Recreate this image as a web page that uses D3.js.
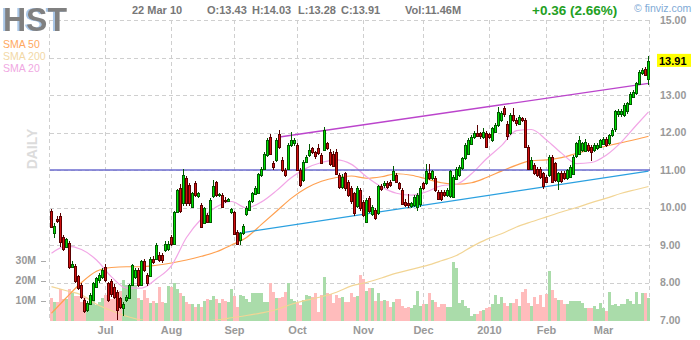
<!DOCTYPE html>
<html>
<head>
<meta charset="utf-8">
<script src="https://d3js.org/d3.v7.min.js"></script>
<style>
  body { margin: 0; background: #fff; }
  svg { display: block; font-family: "Liberation Sans", Arial, sans-serif; }
</style>
</head>
<body>
<svg id="chart" width="700" height="340"></svg>
<script>
// ---- data ----
const ticker = "HST";
const firstDay = "2009-06-05";
const lastDay = "2010-03-22";
const holidays = ["2009-07-03", "2009-09-07", "2009-11-26", "2009-12-25", "2010-01-01", "2010-01-18", "2010-02-15"];

const opens = [
  9.91, 9.33, 9.70, 9.77, 9.22, 8.97, 9.05, 8.42, 8.45, 8.17,
  7.93, 7.53, 7.27, 7.44, 7.55, 7.88, 8.07, 8.15, 8.42, 7.99,
  8.04, 7.89, 7.75, 7.58, 7.33, 7.53, 7.59, 7.93, 8.15, 8.33,
  7.93, 8.56, 8.20, 8.20, 8.64, 8.64, 8.73, 8.73, 8.87, 8.91,
  9.22, 9.04, 9.89, 10.51, 10.11, 10.78, 10.60, 10.02, 10.64, 10.29,
  10.07, 9.58, 9.80, 9.62, 10.29, 10.69, 10.32, 10.33, 10.20, 10.18,
  9.87, 9.89, 9.36, 9.13, 9.31, 9.82, 9.93, 10.16, 10.38, 10.38,
  10.87, 11.04, 11.40, 11.89, 11.18, 11.27, 11.95, 11.27, 11.00, 11.04,
  11.67, 11.71, 11.67, 11.00, 10.73, 11.22, 11.40, 11.58, 11.47, 11.58,
  11.40, 11.53, 11.71, 11.49, 11.44, 11.49, 10.87, 10.56, 10.91, 10.69,
  10.51, 10.38, 10.02, 10.47, 10.16, 9.62, 10.24, 9.84, 9.93, 9.84,
  10.58, 10.58, 10.66, 10.69, 10.73, 10.87, 10.64, 10.47, 10.16, 10.13,
  10.02, 10.07, 10.02, 10.07, 10.64, 10.64, 10.91, 10.78, 10.78, 10.42,
  10.42, 10.42, 10.33, 10.29, 10.29, 10.78, 10.87, 11.04, 11.31, 11.44,
  11.71, 11.89, 12.00, 11.98, 11.89, 11.98, 11.96, 11.80, 12.02, 12.20,
  12.33, 12.64, 12.24, 11.98, 12.47, 12.33, 12.24, 12.38, 12.33, 11.62,
  11.04, 11.13, 11.04, 11.04, 10.91, 10.82, 10.87, 11.36, 11.18, 10.69,
  10.91, 10.91, 10.78, 10.82, 10.91, 11.36, 11.44, 11.53, 11.53, 11.67,
  11.62, 11.53, 11.58, 11.62, 11.71, 11.84, 11.71, 11.93, 12.07, 12.47,
  12.47, 12.47, 12.56, 12.78, 12.96, 13.04, 13.31, 13.58, 13.70, 13.43
];
const highs = [
  9.95, 9.58, 9.78, 9.85, 9.28, 9.20, 9.10, 8.58, 8.50, 8.20,
  7.98, 7.58, 7.50, 7.72, 8.02, 8.15, 8.25, 8.38, 8.50, 8.02,
  8.10, 7.95, 7.80, 7.62, 7.48, 7.66, 7.96, 8.50, 8.40, 8.38,
  8.60, 8.62, 8.25, 8.68, 8.70, 9.05, 8.80, 8.78, 9.10, 9.12,
  9.26, 9.92, 10.50, 10.62, 11.04, 10.85, 10.65, 10.42, 10.70, 10.42,
  10.12, 10.02, 9.85, 10.25, 10.74, 10.72, 10.40, 10.38, 10.28, 10.26,
  10.00, 9.92, 9.40, 9.35, 9.55, 10.03, 10.20, 10.42, 10.58, 10.92,
  11.08, 11.48, 11.85, 11.95, 11.25, 11.85, 12.07, 11.35, 11.05, 11.72,
  12.02, 11.85, 11.72, 11.05, 11.28, 11.40, 11.70, 11.62, 11.52, 11.70,
  11.45, 12.16, 11.75, 11.55, 11.50, 11.55, 10.92, 10.90, 10.95, 10.74,
  10.56, 10.42, 10.56, 10.52, 10.20, 10.25, 10.30, 10.08, 9.98, 10.60,
  10.62, 10.70, 10.70, 10.74, 11.10, 10.92, 10.68, 10.52, 10.22, 10.36,
  10.16, 10.34, 10.38, 10.56, 10.68, 11.16, 11.16, 11.00, 10.83, 10.47,
  10.46, 10.46, 10.51, 11.00, 10.87, 11.08, 11.13, 11.35, 11.72, 11.85,
  11.93, 12.04, 12.20, 12.02, 12.12, 12.04, 12.00, 12.16, 12.25, 12.68,
  12.56, 12.70, 12.30, 12.52, 12.64, 12.38, 12.46, 12.42, 12.38, 11.66,
  11.36, 11.18, 11.08, 11.08, 10.95, 10.86, 11.40, 11.40, 11.22, 10.95,
  10.96, 10.96, 11.04, 11.13, 11.40, 11.76, 11.91, 11.76, 11.84, 11.72,
  11.67, 11.72, 11.72, 11.84, 11.88, 11.88, 11.97, 12.11, 12.60, 12.62,
  12.62, 12.78, 12.82, 13.08, 13.14, 13.36, 13.66, 13.72, 13.74, 14.03
];
const lows = [
  9.45, 9.18, 9.60, 8.95, 8.85, 8.92, 8.35, 8.38, 8.00, 7.80,
  7.55, 7.20, 7.22, 7.40, 7.50, 7.85, 8.00, 8.10, 8.02, 7.48,
  7.62, 7.55, 7.00, 7.30, 7.10, 7.48, 7.55, 7.90, 8.10, 7.88,
  7.90, 8.28, 7.92, 8.15, 8.50, 8.60, 8.55, 8.52, 8.82, 8.85,
  8.98, 9.00, 9.85, 9.85, 10.05, 10.05, 10.05, 9.98, 10.28, 10.25,
  9.45, 9.55, 9.58, 9.58, 10.25, 10.28, 10.28, 9.98, 10.12, 10.14,
  9.84, 9.28, 9.00, 9.00, 9.28, 9.78, 9.90, 10.12, 10.33, 10.35,
  10.82, 11.00, 11.35, 11.40, 11.00, 11.22, 11.55, 10.95, 10.80, 11.00,
  11.62, 11.65, 10.98, 10.55, 10.68, 11.18, 11.36, 11.42, 11.30, 11.40,
  11.15, 11.50, 11.53, 11.12, 11.08, 10.86, 10.50, 10.50, 10.45, 10.28,
  10.10, 9.78, 9.98, 9.92, 9.75, 9.58, 9.85, 9.78, 9.66, 9.80,
  10.45, 10.52, 10.50, 10.55, 10.70, 10.64, 10.46, 10.06, 10.02, 10.00,
  9.98, 10.02, 9.90, 10.02, 10.46, 10.60, 10.73, 10.74, 10.42, 10.20,
  10.18, 10.28, 10.28, 10.25, 10.24, 10.74, 10.82, 11.00, 11.26, 11.40,
  11.66, 11.84, 11.88, 11.84, 11.84, 11.58, 11.82, 11.76, 11.98, 12.15,
  12.28, 12.42, 11.80, 11.94, 12.28, 12.18, 12.20, 12.28, 11.58, 11.00,
  11.00, 10.86, 10.82, 10.76, 10.50, 10.64, 10.82, 10.64, 10.68, 10.47,
  10.64, 10.74, 10.74, 10.78, 10.86, 11.32, 11.40, 11.48, 11.48, 11.48,
  11.25, 11.48, 11.54, 11.58, 11.66, 11.62, 11.66, 11.88, 12.02, 12.42,
  12.40, 12.42, 12.50, 12.74, 12.92, 13.00, 13.26, 13.54, 13.50, 13.28
];
const closes = [
  9.49, 9.52, 9.65, 9.08, 8.90, 9.17, 8.40, 8.50, 8.04, 7.85,
  7.60, 7.25, 7.46, 7.67, 7.99, 8.12, 8.20, 8.33, 8.07, 7.53,
  7.68, 7.62, 7.27, 7.35, 7.44, 7.62, 7.93, 8.47, 8.33, 7.93,
  8.56, 8.33, 7.98, 8.64, 8.56, 9.00, 8.60, 8.60, 9.04, 9.04,
  9.04, 9.89, 10.47, 9.89, 10.87, 10.11, 10.11, 10.38, 10.33, 10.38,
  9.49, 9.98, 9.62, 10.20, 10.56, 10.33, 10.36, 10.02, 10.16, 10.22,
  9.96, 9.31, 9.04, 9.31, 9.50, 9.99, 10.17, 10.38, 10.53, 10.89,
  11.04, 11.44, 11.80, 11.44, 11.06, 11.80, 11.60, 11.00, 10.87, 11.67,
  11.80, 11.80, 11.00, 10.60, 11.22, 11.36, 11.53, 11.47, 11.36, 11.44,
  11.20, 12.07, 11.58, 11.18, 11.13, 10.91, 10.56, 10.82, 10.51, 10.33,
  10.16, 9.84, 10.51, 9.98, 9.80, 10.20, 9.89, 10.02, 9.71, 10.56,
  10.50, 10.64, 10.55, 10.60, 10.96, 10.69, 10.51, 10.11, 10.07, 10.09,
  10.11, 10.29, 10.33, 10.51, 10.51, 10.96, 10.78, 10.96, 10.47, 10.24,
  10.24, 10.33, 10.47, 10.96, 10.82, 11.04, 11.09, 11.31, 11.67, 11.80,
  11.89, 12.00, 11.93, 11.89, 12.02, 11.62, 11.87, 12.11, 12.20, 12.55,
  12.51, 12.47, 11.93, 12.47, 12.33, 12.24, 12.42, 12.33, 11.62, 11.04,
  11.27, 10.91, 10.87, 10.82, 10.56, 10.69, 11.36, 10.69, 10.73, 10.91,
  10.69, 10.78, 11.00, 11.09, 11.36, 11.71, 11.80, 11.71, 11.76, 11.53,
  11.49, 11.67, 11.67, 11.80, 11.84, 11.67, 11.93, 12.07, 12.56, 12.56,
  12.56, 12.73, 12.78, 13.04, 13.09, 13.31, 13.62, 13.67, 13.55, 13.91
];
// volume in millions of shares
const volumes = [
  11.5, 9.5, 9.5, 15.7, 10.7, 10.7, 15.7, 13.7, 12.3, 12.3,
  9.5, 12, 7, 10.3, 10.7, 7.8, 9.5, 11.2, 12.8, 10,
  10.7, 14.5, 7, 15, 20.3, 17.8, 15.3, 17.8, 17.8, 11.2,
  10.3, 15.3, 11.2, 8.7, 9.8, 8.7, 17, 9.5, 8.7, 17.5,
  17, 19, 15.7, 13.7, 12.3, 9.5, 8.4, 8.4, 7, 8.4,
  7, 10, 10.7, 10.4, 12.3, 10.7, 9, 11, 9.8, 9.5,
  15.7, 12.3, 7, 12.8, 12.3, 10.7, 9.5, 13.7, 13.7, 14,
  14, 9.4, 9.3, 19, 14.5, 11.2, 11.2, 12, 14.5, 19,
  10.7, 9.8, 8.7, 7.8, 10.4, 12.8, 12.5, 12, 13.7, 4.5,
  12.8, 22, 13.7, 13.4, 9, 12.8, 11.2, 12, 9.4, 9.4,
  13.7, 12, 12.3, 22.8, 20.7, 14.8, 16.2, 16.2, 9.8, 13.7,
  9.8, 10.3, 9.8, 7, 9.5, 10.7, 10.7, 7.3, 6.5, 7,
  6.2, 7.8, 14.8, 7.3, 8.5, 8.5, 13.7, 10.3, 9.2, 7,
  8.5, 8.5, 7, 7, 29.2, 26.2, 9, 10.3, 7.3, 6.2,
  2.5, 3.3, 3.3, 5, 5.3, 6.2, 7, 8.2, 12.8, 8.5,
  11.7, 9, 7.3, 9, 9, 10.7, 7.3, 14.2, 16, 9,
  7.3, 11.7, 8.5, 12.8, 7, 13.3, 25, 15.3, 11.5, 10.3,
  10.3, 8.2, 8.2, 9.8, 9.8, 9.8, 9.8, 9, 6.5, 6.5,
  6.5, 7.3, 5.7, 9, 6.2, 5, 14.5, 7.8, 8.5, 7.3,
  8.5, 8.2, 10.7, 9.8, 8.5, 14.5, 8.5, 13.7, 13.7, 11.46
];

// moving averages, read every 5 bars
const smaAt = [0, 5, 10, 15, 20, 25, 30, 35, 40, 45, 50, 55, 60, 65, 70, 75, 80, 85, 90, 95,
  100, 105, 110, 115, 120, 125, 130, 135, 140, 145, 150, 155, 160, 165, 170, 175, 180, 185, 190, 195, 199];
const sma20 = [8.78, 8.97, 8.88, 8.6, 8.15, 7.85, 7.85, 8.1, 8.45, 9.2, 9.7, 10.02, 10.16, 9.99, 10.15, 10.45, 10.8, 11.05, 11.2, 11.27,
  11.15, 10.82, 10.55, 10.38, 10.33, 10.42, 10.58, 10.62, 10.9, 11.3, 11.65, 12.05, 12.08, 11.8, 11.45, 11.17, 11.2, 11.4, 11.75, 12.2, 12.55];
const sma50 = [7.18, 7.6, 8.0, 8.3, 8.4, 8.42, 8.42, 8.46, 8.52, 8.6, 8.7, 8.82, 9.0, 9.2, 9.55, 9.9, 10.25, 10.52, 10.7, 10.8,
  10.84, 10.78, 10.82, 10.9, 10.86, 10.76, 10.66, 10.62, 10.66, 10.8, 10.97, 11.13, 11.25, 11.27, 11.33, 11.44, 11.55, 11.64, 11.73, 11.82, 11.9];
const sma200 = [7.89, 7.78, 7.67, 7.42, 7.25, 7.1, 7.0, 6.97, 6.96, 6.96, 6.97, 7.0, 7.06, 7.12, 7.19, 7.28, 7.42, 7.53, 7.62, 7.74,
  7.91, 8.0, 8.12, 8.25, 8.35, 8.45, 8.58, 8.72, 8.95, 9.15, 9.3, 9.48, 9.62, 9.75, 9.88, 10.0, 10.13, 10.25, 10.38, 10.48, 10.56];

// drawn trendlines: [bar, price]
const resistance = [[76, 11.88], [199, 13.31]];
const support = [[62, 9.31], [199, 10.97]];
const level = 11.0;

const priceTicks = [7, 8, 9, 10, 11, 12, 13, 14, 15];
const volTicks = [10, 20, 30];

// ---- dates ----
const parse = d3.utcParse("%Y-%m-%d");
const fmt = d3.utcFormat("%Y-%m-%d");
const dates = d3.utcDays(parse(firstDay), d3.utcDay.offset(parse(lastDay), 1))
  .filter(d => d.getUTCDay() % 6 !== 0 && !holidays.includes(fmt(d)));

const bars = dates.map((d, i) => ({
  i, date: d, o: opens[i], h: highs[i], l: lows[i], c: closes[i], v: volumes[i]
}));
const last = bars[bars.length - 1];
const prev = bars[bars.length - 2];

// ---- scales ----
const svg = d3.select("#chart");
const x = d3.scaleBand().domain(d3.range(bars.length)).range([50, 650]);
const cx = i => x(i) + x.bandwidth() / 2;
const y = d3.scaleLinear().domain([7, 15]).range([320, 20]);
const yv = d3.scaleLinear().domain([0, 30]).range([320.7, 260.7]);
const snap = v => Math.round(v) + 0.5;

const defs = svg.append("defs");
defs.append("clipPath").attr("id", "plot")
  .append("rect").attr("x", 50).attr("y", 20).attr("width", 600).attr("height", 300);
// bluish offset shade behind the ticker
const shade = defs.append("filter").attr("id", "shade").attr("x", "-10%").attr("width", "120%");
shade.append("feFlood").attr("flood-color", "#a9c6e6");
shade.append("feComposite").attr("in2", "SourceAlpha").attr("operator", "in");
shade.append("feOffset").attr("dx", -2).attr("dy", 0).attr("result", "sh");
const merge = shade.append("feMerge");
merge.append("feMergeNode").attr("in", "sh");
merge.append("feMergeNode").attr("in", "SourceGraphic");

// grid
const grid = svg.append("g").attr("stroke", "#cfcfcf").attr("stroke-dasharray", "4,3");
grid.selectAll("line.h").data(priceTicks).join("line")
  .attr("x1", 50).attr("x2", 650)
  .attr("y1", d => snap(y(d))).attr("y2", d => snap(y(d)));

const monthStarts = bars.filter((b, i) => i > 0 && b.date.getUTCMonth() !== bars[i - 1].date.getUTCMonth());
grid.selectAll("line.v").data(monthStarts).join("line")
  .attr("x1", d => cx(d.i)).attr("x2", d => cx(d.i))
  .attr("y1", 20).attr("y2", 320);
grid.selectAll("line.edge").data([50, 650]).join("line")
  .attr("x1", d => d - 0.5).attr("x2", d => d - 0.5).attr("y1", 20).attr("y2", 320);

// volume
svg.append("g").attr("shape-rendering", "crispEdges")
  .selectAll("rect").data(bars).join("rect")
  .attr("x", d => x(d.i)).attr("width", x.bandwidth())
  .attr("y", d => yv(d.v)).attr("height", d => yv(0) - yv(d.v))
  .attr("fill", d => d.c >= d.o ? "#aadcaa" : "#ffbcbc");

// moving averages
const plot = svg.append("g").attr("clip-path", "url(#plot)");
const maLine = vals => d3.line().x((d, k) => cx(smaAt[k])).y(d => y(d)).curve(d3.curveMonotoneX)(vals);
[[sma200, "#f2d595"], [sma50, "#ffa050"], [sma20, "#f2a6e6"]].forEach(([vals, col]) => {
  plot.append("path").attr("d", maLine(vals)).attr("fill", "none")
    .attr("stroke", col).attr("stroke-width", 1.2);
});

// horizontal level and trendlines
plot.append("line").attr("x1", 50).attr("x2", 650)
  .attr("y1", y(level)).attr("y2", y(level))
  .attr("stroke", "#6c6cd0").attr("stroke-width", 1.3);
const tl = d3.line().x(d => cx(d[0])).y(d => y(d[1]));
plot.append("path").attr("d", tl(resistance)).attr("stroke", "#bb44cc").attr("stroke-width", 1.3).attr("fill", "none");
plot.append("path").attr("d", tl(support)).attr("stroke", "#2aa0e0").attr("stroke-width", 1.3).attr("fill", "none");

// candles
const candles = plot.append("g").attr("shape-rendering", "crispEdges")
  .selectAll("g").data(bars).join("g");
candles.append("line")
  .attr("x1", d => cx(d.i)).attr("x2", d => cx(d.i))
  .attr("y1", d => Math.round(y(d.h))).attr("y2", d => Math.round(y(d.l)))
  .attr("stroke", d => d.c >= d.o ? "#005a00" : "#5a0000");
candles.append("rect")
  .attr("x", d => cx(d.i) - 1).attr("width", 2)
  .attr("y", d => snap(y(Math.max(d.o, d.c))))
  .attr("height", d => Math.max(1, Math.round(Math.abs(y(d.o) - y(d.c)))))
  .attr("fill", d => d.c >= d.o ? "#00e000" : "#d01010")
  .attr("stroke", d => d.c >= d.o ? "#005a00" : "#5a0000");

// right price axis
const yLast = y(last.c);
svg.append("g").selectAll("text").data(priceTicks.filter(p => Math.abs(y(p) - yLast) > 12)).join("text")
  .attr("x", 660).attr("y", d => y(d)).attr("dy", "0.36em")
  .attr("font-size", 10.5).attr("font-weight", "bold").attr("fill", "#999")
  .text(d => d.toFixed(2));
svg.append("rect").attr("x", 657).attr("y", yLast - 7).attr("width", 34).attr("height", 13).attr("fill", "#ffff00");
svg.append("text").attr("x", 659).attr("y", yLast).attr("dy", "0.36em")
  .attr("font-size", 11).attr("font-weight", "bold").attr("fill", "#000")
  .text(last.c.toFixed(2));

// volume axis
const va = svg.append("g");
va.selectAll("line").data(volTicks).join("line")
  .attr("x1", 41).attr("x2", 46).attr("y1", d => snap(yv(d))).attr("y2", d => snap(yv(d)))
  .attr("stroke", "#aaa");
va.selectAll("text").data(volTicks).join("text")
  .attr("x", 36).attr("y", d => yv(d)).attr("dy", "0.36em").attr("text-anchor", "end")
  .attr("font-size", 10.5).attr("font-weight", "bold").attr("fill", "#999")
  .text(d => d + "M");

// month labels
svg.append("g").selectAll("text").data(monthStarts).join("text")
  .attr("x", d => cx(d.i)).attr("y", 334).attr("text-anchor", "middle")
  .attr("font-size", 11).attr("font-weight", "bold").attr("fill", "#999")
  .text(d => d.date.getUTCMonth() === 0 ? d3.utcFormat("%Y")(d.date) : d3.utcFormat("%b")(d.date));

// header
svg.append("text").attr("x", 3).attr("y", 31).attr("font-size", 34).attr("font-weight", "bold")
  .attr("fill", "#808080").attr("textLength", 64).attr("lengthAdjust", "spacingAndGlyphs")
  .attr("filter", "url(#shade)").text(ticker);

const info = [
  [132, d3.utcFormat("%d %b %y")(last.date)],
  [207, "O:" + last.o.toFixed(2)],
  [252, "H:" + last.h.toFixed(2)],
  [298, "L:" + last.l.toFixed(2)],
  [341, "C:" + last.c.toFixed(2)],
  [405, "Vol:" + last.v.toFixed(2) + "M"]
];
svg.append("g").selectAll("text").data(info).join("text")
  .attr("x", d => d[0]).attr("y", 14)
  .attr("font-size", 11).attr("font-weight", "bold").attr("fill", "#777")
  .text(d => d[1]);

const chg = last.c - prev.c;
svg.append("text").attr("x", 532).attr("y", 15)
  .attr("font-size", 13.5).attr("font-weight", "bold").attr("fill", "#22a022")
  .text((chg >= 0 ? "+" : "") + chg.toFixed(2) + " (" + (chg / prev.c * 100).toFixed(2) + "%)");
svg.append("text").attr("x", 634).attr("y", 12)
  .attr("font-size", 10.5).attr("fill", "#80aad6").text("\u00a9 finviz.com");

const legend = [["SMA 50", "#ffa860"], ["SMA 200", "#f2d8a6"], ["SMA 20", "#f0a8e2"]];
svg.append("g").selectAll("text").data(legend).join("text")
  .attr("x", 3).attr("y", (d, k) => 48 + k * 12)
  .attr("font-size", 10.5).attr("fill", d => d[1]).text(d => d[0]);

svg.append("text").attr("transform", "translate(37,149) rotate(-90)")
  .attr("text-anchor", "middle").attr("font-size", 14).attr("font-weight", "bold")
  .attr("fill", "#dcdcdc").text("DAILY");
</script>
</body>
</html>
